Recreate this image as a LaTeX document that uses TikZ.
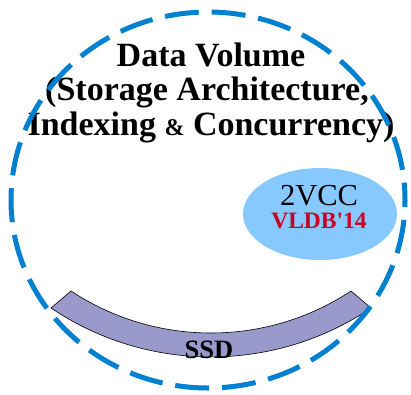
\documentclass[tikz,border=0pt]{standalone}
\usepackage{fontspec}
\setmainfont{Liberation Serif}
\newfontfamily\plainserif{Liberation Serif}
\definecolor{ringblue}{RGB}{0,128,208}
\definecolor{bubble}{RGB}{135,200,255}
\definecolor{vldbred}{RGB}{204,0,34}
\definecolor{band}{RGB}{153,153,204}
\tikzset{
  ring/.style={draw=ringblue, line width=5pt, dash pattern=on 34pt off 12.9pt, dash phase=27pt},
  bubblebox/.style={ellipse, fill=bubble, minimum width=154pt, minimum height=92pt, inner sep=0pt},
  title/.style={anchor=base, inner sep=0pt, font=\bfseries\fontsize{34}{34}\selectfont},
}
\usetikzlibrary{shapes.geometric}
\begin{document}
\begin{tikzpicture}[x=1pt,y=-1pt]
\useasboundingbox (0,0) rectangle (411,394);
% SSD band
\draw[fill=band, draw=black, line width=0.6pt]
  (51,308) .. controls (147.7,373.2) and (274.3,373.2) .. (371,308)
  -- (351,291) .. controls (266.2,347) and (155.8,347) .. (71,291) -- cycle;
\node[anchor=base, font=\bfseries\fontsize{26.5}{26.5}\selectfont, inner sep=0pt] (ssd) at (209,358) {SSD};
% bubble
\node[bubblebox] (vcc) at (320,214) {};
\node[anchor=base, font=\fontsize{30.5}{30.5}\selectfont, inner sep=0pt] (vcctxt) at (319,205) {2VCC};
\node[anchor=base, font=\plainserif\bfseries\fontsize{23.5}{23.5}\selectfont, text=vldbred, inner sep=0pt] (vldb) at (319,228) {VLDB'14};
% title
\node[title] (t1) at (211,66) {Data Volume};
\node[title] (t2) at (207,100) {(Storage Architecture,};
\node[title] (t3) at (211,135) {Indexing {\fontsize{24}{24}\selectfont\&} Concurrency)};
% dashed ring
\draw[ring] (208,200) ellipse [x radius=197, y radius=188];
\end{tikzpicture}
\end{document}
